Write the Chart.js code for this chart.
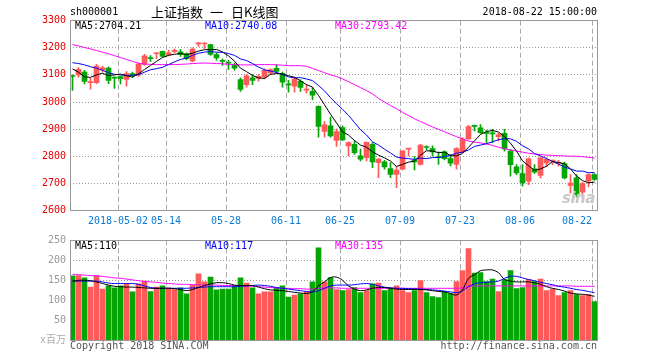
<!DOCTYPE html>
<html>
<head>
  <meta charset="utf-8">
  <title>上证指数 日K线图</title>
  <script src="https://cdn.jsdelivr.net/npm/chart.js"></script>
  <style>
    body { margin: 0; background: #fff; }
    #box { position: relative; width: 660px; height: 360px; overflow: hidden; }
    #box canvas { position: absolute; left: 0; }
    #kline { top: 0; }
    #vol { top: 228px; }
    .txt {
      position: absolute;
      font-family: 'DejaVu Sans Mono', monospace;
      font-size: 10px;
      line-height: 12px;
      white-space: pre;
      color: #000;
    }
    .cn {
      position: absolute;
      font-family: 'Noto Sans CJK SC', sans-serif;
      font-size: 13px;
      line-height: 16px;
      top: 4px;
    }
    .blue { color: #0000ff; }
    .pink { color: #ff00ff; }
    .grey { color: #555; }
    #sina {
      position: absolute; left: 562px; top: 189px;
      font: italic bold 15px 'DejaVu Sans', sans-serif;
      color: #c8c8c8; letter-spacing: -0.5px;
    }
  </style>
</head>
<body>
<div id="box">
  <canvas id="kline" width="660" height="235"></canvas>
  <canvas id="vol" width="660" height="132"></canvas>

  <div class="txt" style="left:70px; top:6px;">sh000001</div>
  <div class="cn" style="left:151px;">上证指数</div>
  <div class="cn" style="left:210px;">一</div>
  <div class="cn" style="left:231px;">日K线图</div>
  <div class="txt" style="right:63px; top:6px;">2018-08-22 15:00:00</div>

  <div class="txt" style="left:75px; top:20px;">MA5:2704.21</div>
  <div class="txt blue" style="left:205px; top:20px;">MA10:2740.08</div>
  <div class="txt pink" style="left:335px; top:20px;">MA30:2793.42</div>
  <div id="sina">sina</div>

  <div class="txt" style="left:75px; top:240px;">MA5:110</div>
  <div class="txt blue" style="left:205px; top:240px;">MA10:117</div>
  <div class="txt pink" style="left:335px; top:240px;">MA30:135</div>

  <div class="txt grey" style="left:70px; top:340px;">Copyright 2018 SINA.COM</div>
  <div class="txt grey" style="right:63px; top:340px;">http://finance.sina.com.cn</div>
</div>

<script>
  // daily candles, 2018-04-18 .. 2018-08-22 (88 trading days)
  const open = [3097,3100,3110,3071,3071,3118,3125,3092,3094,3083,
    3105,3099,3139,3164,3178,3187,3175,3187,3185,3178,
    3152,3214,3214,3212,3175,3152,3146,3137,3083,3064,
    3089,3087,3093,3107,3124,3105,3066,3058,3076,3044,
    3039,2984,2891,2912,2858,2906,2838,2844,2801,2795,
    2844,2776,2779,2754,2733,2752,2826,2785,2770,2834,
    2828,2798,2816,2791,2770,2816,2864,2914,2905,2886,
    2886,2872,2884,2819,2761,2736,2708,2753,2729,2775,
    2782,2773,2773,2692,2720,2667,2708,2732];
  const high = [3100,3127,3117,3088,3139,3133,3130,3093,3096,3112,
    3110,3145,3176,3171,3182,3188,3191,3196,3194,3181,
    3200,3220,3219,3213,3181,3159,3154,3144,3089,3101,
    3101,3101,3122,3122,3138,3110,3080,3092,3083,3064,
    3052,2986,2928,2944,2900,2912,2853,2857,2826,2853,
    2850,2791,2785,2776,2764,2820,2829,2799,2844,2838,
    2838,2816,2820,2807,2832,2869,2914,2915,2917,2896,
    2899,2884,2899,2825,2769,2769,2794,2769,2798,2794,
    2786,2785,2778,2732,2732,2704,2736,2736];
  const low = [3043,3092,3067,3047,3068,3110,3068,3050,3067,3058,
    3092,3094,3135,3150,3160,3167,3170,3181,3168,3155,
    3148,3205,3198,3172,3154,3135,3120,3117,3039,3055,
    3064,3077,3085,3101,3107,3055,3036,3036,3039,3033,
    3009,2870,2870,2870,2836,2857,2801,2807,2783,2783,
    2758,2721,2752,2721,2684,2749,2801,2749,2767,2823,
    2801,2770,2786,2764,2752,2813,2862,2893,2884,2850,
    2850,2856,2819,2726,2732,2689,2695,2736,2720,2761,
    2769,2763,2716,2664,2650,2646,2687,2711];
  const close = [3094,3121,3076,3075,3133,3126,3080,3088,3086,3105,
    3099,3140,3170,3160,3180,3168,3181,3190,3175,3160,
    3195,3218,3217,3176,3163,3150,3143,3125,3046,3097,
    3080,3095,3117,3120,3113,3073,3063,3085,3054,3047,
    3025,2910,2916,2875,2891,2860,2850,2813,2789,2851,
    2779,2789,2760,2733,2749,2820,2829,2779,2841,2832,
    2816,2795,2791,2774,2828,2863,2909,2910,2887,2884,
    2882,2880,2827,2769,2738,2701,2790,2741,2794,2788,
    2785,2777,2720,2701,2658,2699,2732,2714];

  const ma5 = [3122,3110,3093,3091,3100,3106,3098,3100,3103,3097,
    3092,3104,3120,3135,3150,3164,3172,3176,3179,3175,
    3180,3188,3193,3193,3194,3185,3170,3151,3125,3112,
    3098,3089,3087,3102,3105,3104,3097,3091,3078,3064,
    3055,3024,2990,2955,2923,2890,2878,2858,2841,2833,
    2816,2804,2794,2782,2762,2770,2778,2782,2804,2820,
    2819,2813,2815,2802,2801,2810,2833,2857,2880,2891,
    2895,2889,2872,2848,2819,2783,2765,2748,2753,2763,
    2780,2777,2772,2753,2727,2710,2702,2704];
  const ma10 = [3145,3142,3137,3130,3125,3117,3108,3102,3100,3098,
    3099,3101,3110,3119,3123,3128,3138,3148,3157,3162,
    3172,3180,3184,3186,3184,3183,3179,3172,3159,3153,
    3142,3129,3119,3114,3109,3101,3093,3089,3090,3085,
    3079,3061,3041,3016,2994,2973,2951,2924,2898,2878,
    2853,2841,2826,2812,2797,2793,2791,2788,2793,2791,
    2795,2795,2799,2803,2811,2815,2823,2836,2841,2846,
    2853,2861,2865,2864,2855,2839,2827,2810,2801,2791,
    2781,2771,2760,2753,2745,2745,2739,2740];
  const ma30 = [3212,3207,3201,3196,3190,3184,3178,3171,3164,3157,
    3150,3143,3140,3139,3138,3138,3138,3138,3139,3140,
    3142,3143,3144,3143,3142,3141,3139,3138,3137,3137,
    3137,3138,3138,3138,3137,3136,3134,3134,3134,3132,
    3124,3116,3108,3100,3094,3085,3075,3064,3053,3042,
    3030,3013,3000,2987,2975,2962,2950,2938,2928,2918,
    2908,2899,2890,2881,2872,2864,2856,2852,2849,2845,
    2840,2833,2828,2823,2819,2815,2811,2808,2806,2804,
    2803,2802,2801,2800,2800,2798,2796,2793];

  // volume, millions of lots
  const vol = [161,162,156,133,161,128,136,131,136,141,
    121,141,148,122,133,136,131,127,131,116,
    138,166,146,158,126,128,128,136,156,143,
    131,116,121,121,131,136,108,113,116,122,
    146,231,146,157,127,124,127,132,119,124,
    141,143,124,131,136,124,119,124,149,119,
    109,107,121,117,147,174,229,168,169,147,
    153,122,152,174,129,132,152,147,153,124,
    128,112,119,124,114,112,114,97];
  const volMa5 = [148,150,150,149,146,142,138,135,134,133,
    133,132,131,130,130,130,130,129,127,124,
    127,132,137,141,144,144,142,138,137,137,
    137,133,129,126,125,124,122,120,118,117,
    121,136,146,157,158,150,136,128,124,126,
    130,132,132,130,128,127,127,127,127,126,
    124,122,121,117,113,126,155,164,174,176,
    176,169,152,148,146,146,146,144,140,134,
    130,127,123,118,116,115,113,110];
  const volMa10 = [148,148,148,148,148,146,143,142,142,142,
    142,140,136,132,130,130,130,130,130,130,
    131,132,133,134,134,134,134,134,135,136,
    137,138,137,135,132,130,128,126,124,122,
    121,124,130,136,138,138,138,139,141,142,
    140,136,133,131,130,130,129,129,128,127,
    126,125,123,121,119,124,134,141,144,145,
    146,148,155,160,160,156,152,149,145,142,
    139,135,133,130,127,125,122,119];
  const volMa30 = [165,164,163,162,161,160,158,156,155,153,
    151,149,147,146,145,143,142,141,140,140,
    139,139,138,138,138,137,137,137,136,136,
    135,134,133,132,131,130,130,129,129,128,
    128,130,131,131,131,130,130,130,130,130,
    130,130,130,130,130,130,130,130,130,130,
    130,130,130,130,130,131,135,136,136,136,
    136,136,136,136,136,136,136,136,136,136,
    136,136,136,136,135,135,135,135];

  // date ticks (index of the trading day, label)
  const tickIdx = [8, 16, 26, 36, 45, 55, 65, 75, 87];
  const tickText = ['2018-05-02', '05-14', '05-28', '06-11', '06-25', '07-09', '07-23', '08-06', '08-22     '];
  const priceTicks = [2600, 2700, 2800, 2900, 3000, 3100, 3200, 3300];
  const volTicks = [0, 50, 100, 150, 200, 250];

  const RED = '#ff5a5a';
  const GREEN = '#06a506';
  const MONO = "'DejaVu Sans Mono', 'Noto Sans CJK SC', monospace";
  const colors = close.map((c, i) => c >= open[i] ? RED : GREEN);
  const pts = arr => arr.map((v, i) => ({ x: i, y: v }));

  // gray frame round the plot area
  const frame = {
    id: 'frame',
    afterDraw(chart) {
      const { ctx, chartArea: a } = chart;
      const l = Math.floor(a.left) + 0.5, t = Math.floor(a.top) + 0.5;
      const r = Math.floor(a.right) + 0.5, b = Math.floor(a.bottom) + 0.5;
      ctx.save();
      ctx.strokeStyle = '#999';
      ctx.lineWidth = 1;
      ctx.strokeRect(l, t, r - l, b - t);
      ctx.restore();
    }
  };

  function xAxis(showLabels) {
    return {
      type: 'linear', bounds: 'data',
      min: -0.4167, max: 87.533,
      offset: false,
      afterBuildTicks: s => { s.ticks = tickIdx.map(i => ({ value: i - 0.4167 })); },
      afterFit: s => {
        s.paddingLeft = 0; s.paddingRight = 0;
        if (showLabels) s.height = 24.6;
      },
      grid: { offset: false, color: '#aaa', lineWidth: 1, drawTicks: false },
      border: { display: false, dash: [5, 3] },
      ticks: {
        display: showLabels, autoSkip: false, maxRotation: 0, minRotation: 0,
        padding: 5, color: '#0a7ad6',
        font: { family: MONO, size: 10 },
        callback: (v, i) => tickText[i]
      }
    };
  }

  function yAxis(lo, hi, tickList, labelFn, colorFn) {
    return {
      type: 'linear', min: lo, max: hi, beginAtZero: false,
      afterBuildTicks: s => { s.ticks = tickList.map(v => ({ value: v })); },
      afterFit: s => { s.width = 70; s.paddingTop = 0; s.paddingBottom = 0; },
      grid: { color: '#999', lineWidth: 1, drawTicks: false },
      border: { display: false, dash: [1, 2] },
      ticks: {
        padding: 4, color: colorFn,
        font: { family: MONO, size: 10 },
        callback: labelFn
      }
    };
  }

  function maLine(arr, color, tension) {
    return {
      type: 'line', data: pts(arr), borderColor: color, borderWidth: 1,
      pointRadius: 0, tension: tension, fill: false, order: 0
    };
  }

  new Chart(document.getElementById('kline'), {
    type: 'bar',
    data: {
      datasets: [
        maLine(ma5, '#000000', 0),
        maLine(ma10, '#0000ff', 0),
        maLine(ma30, '#ff00ff', 0),
        {
          data: close.map((c, i) => ({ x: i, y: [open[i], c] })),
          backgroundColor: colors, barThickness: 5, minBarLength: 1,
          grouped: false, order: 1
        },
        {
          data: close.map((c, i) => ({ x: i, y: [low[i], high[i]] })),
          backgroundColor: colors, barThickness: 1,
          grouped: false, order: 2
        }
      ]
    },
    options: {
      responsive: false,
      animation: false,
      events: [],
      layout: { padding: { left: 0, right: 62.3, top: 20.7, bottom: 0 } },
      plugins: { legend: { display: false }, tooltip: { enabled: false } },
      scales: {
        x: xAxis(true),
        y: yAxis(2600, 3300, priceTicks, v => String(v), '#e60000')
      }
    },
    plugins: [frame]
  });

  new Chart(document.getElementById('vol'), {
    type: 'bar',
    data: {
      datasets: [
        maLine(volMa5, '#000000', 0.3),
        maLine(volMa10, '#0000ff', 0.3),
        maLine(volMa30, '#ff00ff', 0.3),
        {
          data: pts(vol),
          backgroundColor: colors, barThickness: 5,
          grouped: false, order: 1
        }
      ]
    },
    options: {
      responsive: false,
      animation: false,
      events: [],
      layout: { padding: { left: 0, right: 62.3, top: 12.3, bottom: 19.7 } },
      plugins: { legend: { display: false }, tooltip: { enabled: false } },
      scales: {
        x: xAxis(false),
        y: yAxis(0, 250, volTicks, v => v === 0 ? 'x百万' : String(v),
          c => (c.tick && c.tick.value === 0) ? '#aaa' : '#999')
      }
    },
    plugins: [frame]
  });
</script>
</body>
</html>
